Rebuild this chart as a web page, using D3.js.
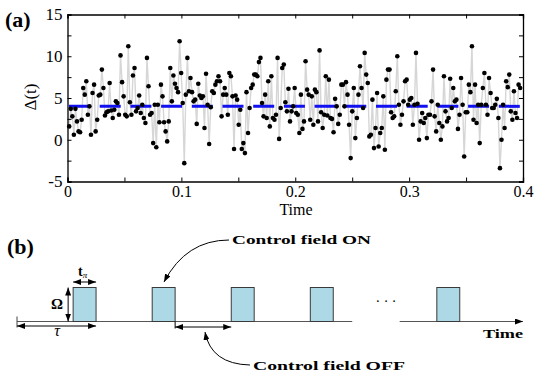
<!DOCTYPE html>
<html>
<head>
<meta charset="utf-8">
<script src="https://cdn.jsdelivr.net/npm/d3@7/dist/d3.min.js"></script>
<style>
  body { margin: 0; background: #fff; }
  svg { display: block; font-family: "Liberation Serif", "DejaVu Serif", serif; }
</style>
</head>
<body>
<svg id="chart" width="535" height="377"></svg>
<script>
// Delta(t) samples, left to right
const deltaValues = [
  1.6,3.7,2.8,0.6,3.7,2.2,1.0,0.9,2.4,6.2,5.4,7.0,3.0,4.0,0.6,5.6,6.6,1.0,2.4,5.3,5.4,8.4,6.2,2.9,3.3,3.4,6.8,3.5,2.6,3.6,
  4.6,4.4,3.0,10.1,6.9,5.2,3.0,2.8,11.2,4.5,3.0,7.7,8.6,3.4,3.8,5.3,3.2,4.2,2.6,2.0,9.8,6.4,3.0,3.2,-0.4,4.2,-0.9,4.2,2.1,6.6,
  5.2,2.1,1.0,-0.2,2.2,8.6,4.6,7.7,6.7,
  6.2,5.7,11.8,8.0,4.4,-2.8,5.4,9.8,5.8,7.4,5.7,4.6,4.8,1.9,6.7,5.3,5.0,5.2,1.4,7.9,4.2,-0.5,3.9,5.8,5.6,6.6,7.0,7.6,7.0,2.8,
  5.4,6.2,5.4,3.0,8.0,7.6,5.2,-1.1,5.3,4.8,1.8,3.6,-1.1,-0.4,-1.6,5.7,0.8,3.8,6.2,6.6,7.8,7.8,7.6,9.3,9.8,4.4,2.8,5.4,2.6,7.0,
  1.6,7.6,2.6,2.4,3.0,9.8,0.1,3.8,8.6,9.0,
  4.5,3.4,6.1,2.2,3.4,4.0,6.2,3.2,3.0,0.8,5.4,1.3,2.2,9.4,6.0,5.4,2.4,5.2,1.8,6.0,5.7,2.2,10.7,3.3,1.4,3.0,7.6,2.9,7.2,2.6,
  2.5,0.9,4.9,4.0,1.9,3.0,6.6,6.6,4.0,6.9,5.4,1.8,-2.2,3.4,6.2,0.2,2.6,5.4,8.8,6.2,3.8,10.4,7.8,6.8,0.4,0.6,4.8,-1.0,1.4,5.6,
  -0.8,0.8,1.4,5.2,-1.2,7.2,8.4,8.4,3.3,2.6,2.8,5.8,10.0,
  4.2,1.8,3.0,4.6,7.0,7.2,4.2,4.8,5.0,1.8,4.2,10.4,4.3,0.0,2.2,3.2,2.0,2.6,0.2,3.0,3.0,4.6,8.4,2.8,1.0,4.2,2.0,0.0,1.6,7.6,
  3.4,2.2,2.6,7.3,3.8,6.2,4.6,4.8,1.3,3.0,7.4,4.2,-2.0,3.3,3.3,6.6,5.7,11.2,2.4,6.6,2.0,4.2,-0.4,4.2,6.2,8.0,4.2,3.0,7.4,5.6,
  3.8,3.8,4.2,4.9,2.6,-3.4,0.0,4.2,1.4,7.0,6.3,7.8,3.4,2.4,5.8,3.2,2.6,6.6,6.2
];
const timeRange = [0.0015, 0.3975];   // first and last sample time
const meanLevel = 4;
const xTicks = [0, 0.05, 0.1, 0.15, 0.2, 0.25, 0.3, 0.35, 0.4];
const xLabels = [0, 0.1, 0.2, 0.3, 0.4];
const yTicks = [-5, -2.5, 0, 2.5, 5, 7.5, 10, 12.5, 15];
const yLabels = [-5, 0, 5, 10, 15];

// schematic (b), in units of tau
const pulseEnds = [1, 2, 3, 4, 5.6];
const tPi = 0.29;
const timeSegments = [[0, 4.24], [4.84, 6.4]];

const svg = d3.select("#chart");

// ---------- panel (a) ----------
const x = d3.scaleLinear().domain([0, 0.4]).range([67.5, 523]);
const y = d3.scaleLinear().domain([-5, 15]).range([181.5, 14.5]);

const step = (timeRange[1] - timeRange[0]) / (deltaValues.length - 1);
const samples = deltaValues.map((v, i) => ({t: timeRange[0] + i * step, v: v}));

svg.append("path")
  .datum(samples)
  .attr("fill", "none")
  .attr("stroke", "#d6d6d6")
  .attr("stroke-width", 1.4)
  .attr("d", d3.line().x(d => x(d.t)).y(d => y(d.v)));

svg.append("line")
  .attr("x1", x(0) + 1.5).attr("x2", x(0.4))
  .attr("y1", y(meanLevel)).attr("y2", y(meanLevel))
  .attr("stroke", "#1010f0")
  .attr("stroke-width", 3)
  .attr("stroke-dasharray", "21,9.7");

svg.append("g").selectAll("circle")
  .data(samples)
  .enter().append("circle")
  .attr("cx", d => x(d.t))
  .attr("cy", d => y(d.v))
  .attr("r", 2.3)
  .attr("fill", "#000");

const fmtX = d => xLabels.some(l => Math.abs(l - d) < 1e-9) ? d3.format("~g")(d) : "";
const fmtY = d => yLabels.includes(d) ? String(d) : "";

function styleAxis(g) {
  g.select(".domain").attr("stroke", "#000").attr("stroke-width", 1.3);
  g.selectAll(".tick line").attr("stroke", "#000").attr("stroke-width", 1);
  g.selectAll("text").attr("fill", "#000").attr("font-size", 17).attr("font-family", "Liberation Serif, serif");
}

svg.append("g")
  .attr("transform", "translate(0," + y(-5) + ")")
  .call(d3.axisBottom(x).tickValues(xTicks).tickSize(-4).tickPadding(4).tickFormat(fmtX))
  .call(styleAxis)
  .selectAll("text").attr("font-size", 16);

svg.append("g")
  .attr("transform", "translate(0," + y(15) + ")")
  .call(d3.axisTop(x).tickValues(xTicks).tickSize(-4).tickFormat(""))
  .call(styleAxis);

svg.append("g")
  .attr("transform", "translate(" + x(0) + ",0)")
  .call(d3.axisLeft(y).tickValues(yTicks).tickSize(-4).tickPadding(5).tickFormat(fmtY))
  .call(styleAxis);

svg.append("g")
  .attr("transform", "translate(" + x(0.4) + ",0)")
  .call(d3.axisRight(y).tickValues(yTicks).tickSize(-4).tickFormat(""))
  .call(styleAxis);

svg.append("text")
  .attr("x", 296).attr("y", 215)
  .attr("text-anchor", "middle")
  .attr("font-size", 16)
  .text("Time");

svg.append("text")
  .attr("transform", "translate(36,97) rotate(-90)")
  .attr("text-anchor", "middle")
  .attr("font-size", 17)
  .text("Δ(t)");

svg.append("text")
  .attr("x", 5).attr("y", 27)
  .attr("font-size", 22)
  .attr("font-weight", "bold")
  .text("(a)");

// ---------- panel (b) ----------
const xs = d3.scaleLinear().domain([0, 6.4]).range([17, 523]);
const ys = d3.scaleLinear().domain([0, 1]).range([321.5, 287.5]);

const defs = svg.append("defs");
defs.append("marker")
  .attr("id", "head")
  .attr("markerUnits", "userSpaceOnUse")
  .attr("viewBox", "0 0 8 6")
  .attr("markerWidth", 8).attr("markerHeight", 6)
  .attr("refX", 8).attr("refY", 3)
  .attr("orient", "auto-start-reverse")
  .append("path").attr("d", "M0,0 L8,3 L0,6 Z").attr("fill", "#000");

svg.append("text")
  .attr("x", 7).attr("y", 254)
  .attr("font-size", 22)
  .attr("font-weight", "bold")
  .text("(b)");

// time axis pieces
svg.append("g").selectAll("line")
  .data(timeSegments)
  .enter().append("line")
  .attr("x1", d => xs(d[0])).attr("x2", d => xs(d[1]))
  .attr("y1", ys(0)).attr("y2", ys(0))
  .attr("stroke", "#555").attr("stroke-width", 1.2)
  .attr("marker-end", (d, i) => i === timeSegments.length - 1 ? "url(#head)" : null);

svg.append("line")
  .attr("x1", xs(0)).attr("x2", xs(0))
  .attr("y1", ys(0) - 5).attr("y2", ys(0) + 6)
  .attr("stroke", "#444").attr("stroke-width", 1);

// pulses
svg.append("g").selectAll("rect")
  .data(pulseEnds)
  .enter().append("rect")
  .attr("x", d => xs(d - tPi))
  .attr("y", ys(1))
  .attr("width", xs(tPi) - xs(0))
  .attr("height", ys(0) - ys(1))
  .attr("fill", "#add8e6")
  .attr("stroke", "#3a3a3a")
  .attr("stroke-width", 1);

function dblArrow(x1, y1, x2, y2) {
  svg.append("line")
    .attr("x1", x1).attr("y1", y1).attr("x2", x2).attr("y2", y2)
    .attr("stroke", "#000").attr("stroke-width", 1)
    .attr("marker-start", "url(#head)").attr("marker-end", "url(#head)");
}

// Omega
dblArrow(xs(pulseEnds[0] - tPi) - 5, ys(1), xs(pulseEnds[0] - tPi) - 5, ys(0));
svg.append("text").attr("x", 57).attr("y", 309).attr("text-anchor", "middle")
  .attr("font-size", 15).attr("font-weight", "bold").text("Ω");

// t_pi
dblArrow(xs(pulseEnds[0] - tPi), ys(1) - 5.5, xs(pulseEnds[0]), ys(1) - 5.5);
const tpl = svg.append("text").attr("x", 78).attr("y", 276).attr("font-size", 14).attr("font-weight", "bold");
tpl.append("tspan").text("t");
tpl.append("tspan").attr("dy", 2).attr("font-size", 9).attr("font-style", "italic").attr("font-weight", "normal").text("π");

// tau
dblArrow(xs(0), ys(0) + 4.5, xs(pulseEnds[0]), ys(0) + 4.5);
svg.append("text").attr("x", 57).attr("y", 336).attr("text-anchor", "middle")
  .attr("font-size", 16).attr("font-style", "italic").text("τ");

// off interval
svg.append("line")
  .attr("x1", xs(pulseEnds[1])).attr("x2", xs(pulseEnds[1]))
  .attr("y1", ys(0)).attr("y2", ys(0) + 7)
  .attr("stroke", "#000").attr("stroke-width", 1);
dblArrow(xs(pulseEnds[1]), ys(0) + 5.5, xs(pulseEnds[2] - tPi), ys(0) + 5.5);

// ellipsis
svg.append("text").attr("x", 386).attr("y", 306).attr("text-anchor", "middle")
  .attr("font-size", 14).text("· · ·");

svg.append("text").attr("x", 523).attr("y", 338).attr("text-anchor", "end")
  .attr("font-size", 13).attr("font-weight", "bold")
  .attr("textLength", 40).attr("lengthAdjust", "spacingAndGlyphs").text("Time");

// callouts
svg.append("text").attr("x", 232).attr("y", 244)
  .attr("font-size", 13).attr("font-weight", "bold")
  .attr("textLength", 139).attr("lengthAdjust", "spacingAndGlyphs").text("Control field ON");
svg.append("path")
  .attr("d", "M229,240 Q186,240 164,282")
  .attr("fill", "none").attr("stroke", "#000").attr("stroke-width", 1)
  .attr("marker-end", "url(#head)");

svg.append("text").attr("x", 253).attr("y", 370)
  .attr("font-size", 13).attr("font-weight", "bold")
  .attr("textLength", 152).attr("lengthAdjust", "spacingAndGlyphs").text("Control field OFF");
svg.append("path")
  .attr("d", "M250,365 Q211,364 205,332")
  .attr("fill", "none").attr("stroke", "#000").attr("stroke-width", 1)
  .attr("marker-end", "url(#head)");
</script>
</body>
</html>
